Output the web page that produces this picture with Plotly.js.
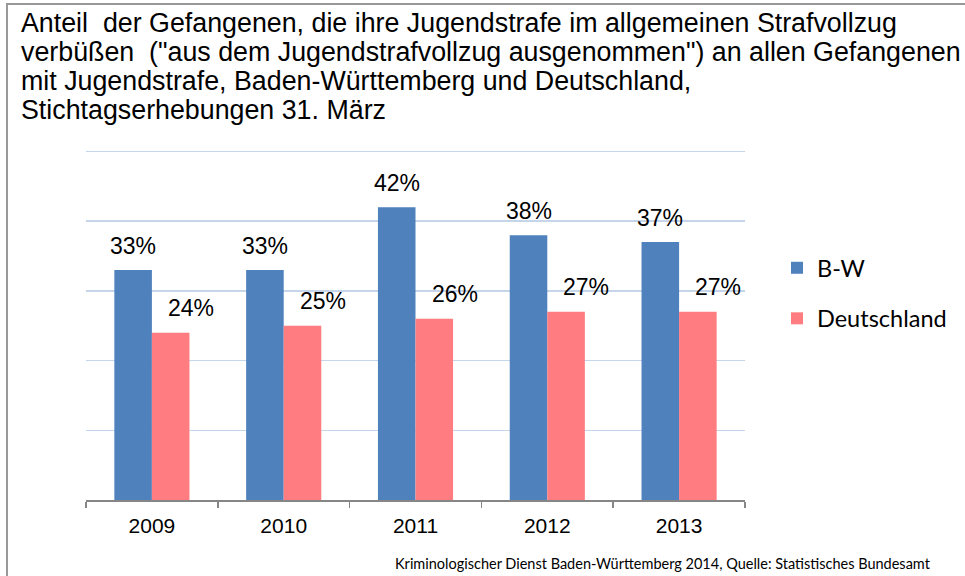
<!DOCTYPE html>
<html>
<head>
<meta charset="utf-8">
<script src="https://cdn.plot.ly/plotly-3.0.1.min.js"></script>
<style>
html,body{margin:0;padding:0;background:#fff;}
#chart{width:965px;height:576px;}
</style>
</head>
<body>
<div id="chart"></div>
<script>
const years = ['2009', '2010', '2011', '2012', '2013'];
const bwValues = [33, 33, 42, 38, 37];
const deValues = [24, 25, 26, 27, 27];
const bwLabels = ['33%', '33%', '42%', '38%', '37%'];
const deLabels = ['24%', '25%', '26%', '27%', '27%'];
const seriesNames = ['B-W', 'Deutschland'];
const titleLines = [
  'Anteil  der Gefangenen, die ihre Jugendstrafe im allgemeinen Strafvollzug',
  'verbüßen  ("aus dem Jugendstrafvollzug ausgenommen") an allen Gefangenen',
  'mit Jugendstrafe, Baden-Württemberg und Deutschland,',
  'Stichtagserhebungen 31. März'
];
const sourceText = 'Kriminologischer Dienst Baden-Württemberg 2014, Quelle: Statistisches Bundesamt';

const W = 965, H = 576;
const M = {l: 86, r: 220, t: 148, b: 76};
const pw = W - M.l - M.r, ph = H - M.t - M.b;
const px = x => (x - M.l) / pw;
const py = y => (H - M.b - y) / ph;

const blue = '#4F81BD', pink = '#FF7C80';

const traces = [
  {type: 'bar', name: seriesNames[0], x: years, y: bwValues, marker: {color: blue}, legendgroup: 'a', hoverinfo: 'skip'},
  {type: 'bar', name: seriesNames[1], x: years, y: deValues, marker: {color: pink}, legendgroup: 'b', hoverinfo: 'skip'}
];

const arial = 'Liberation Sans, Arial, sans-serif';
const labelFont = {family: arial, size: 23, color: '#000'};
const annotations = [];
years.forEach((yr, i) => {
  annotations.push({x: i, y: bwValues[i], xref: 'x', yref: 'y', text: bwLabels[i], showarrow: false,
    xanchor: 'center', yanchor: 'middle', xshift: -18.75, yshift: 24, font: labelFont});
  annotations.push({x: i, y: deValues[i], xref: 'x', yref: 'y', text: deLabels[i], showarrow: false,
    xanchor: 'center', yanchor: 'middle', xshift: 39, yshift: 25, font: labelFont});
});
annotations.push({xref: 'paper', yref: 'paper', x: px(933), y: py(563), xanchor: 'right', yanchor: 'middle',
  text: sourceText, showarrow: false, font: {family: 'Lato, sans-serif', size: 14.5, color: '#000'}});
titleLines.forEach((t, i) => {
  annotations.push({xref: 'paper', yref: 'paper', x: px(19), y: py(23 + 29 * i), xanchor: 'left', yanchor: 'middle', align: 'left',
    text: t, showarrow: false, font: {family: arial, size: 26.8, color: '#000'}});
});

const layout = {
  width: W, height: H,
  margin: M,
  paper_bgcolor: '#fff', plot_bgcolor: '#fff',
  barmode: 'group', bargap: 0.43, bargroupgap: 0,
  xaxis: {type: 'category', range: [-0.5, years.length - 0.5], autorange: false,
    showline: true, linecolor: '#868686', linewidth: 1.5, ticks: 'outside', tickson: 'boundaries',
    ticklen: 6, tickcolor: '#868686', tickwidth: 1.5, showgrid: false, ticklabelstandoff: 6,
    tickfont: {family: arial, size: 21, color: '#000'}},
  yaxis: {range: [0, 50.5], autorange: false, tick0: 0, dtick: 10, showticklabels: false, showgrid: true, gridcolor: '#C5D5EA', gridwidth: 1.5,
    zeroline: false, showline: false, ticks: ''},
  showlegend: true,
  legend: {x: px(777), y: py(246), xanchor: 'left', yanchor: 'top', traceorder: 'grouped', tracegroupgap: 17,
    font: {family: 'Lato, sans-serif', size: 23.5, color: '#000'}, itemwidth: 30, bgcolor: 'rgba(0,0,0,0)'},
  annotations: annotations,
  shapes: [
    {type: 'line', xref: 'paper', yref: 'paper', x0: px(7), x1: px(7), y0: py(576), y1: py(4), line: {color: '#999', width: 2}},
    {type: 'line', xref: 'paper', yref: 'paper', x0: px(6), x1: px(965), y0: py(4), y1: py(4), line: {color: '#999', width: 2}}
  ]
};

Plotly.newPlot('chart', traces, layout, {displayModeBar: false, staticPlot: true});
</script>
</body>
</html>
